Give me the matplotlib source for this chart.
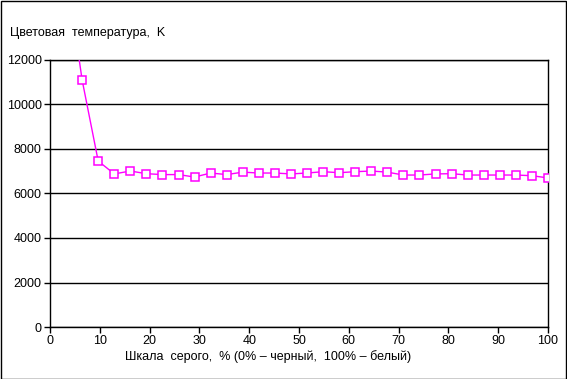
import matplotlib.pyplot as plt
import numpy as np

plt.rcParams['font.family'] = ['Liberation Sans', 'DejaVu Sans']

# gray level steps (k * 100/31), k = 1..31
steps = np.arange(1, 32)
gray_pct = steps * 100 / 31
color_temp = [16100, 11100, 7460, 6880, 7010, 6890, 6850, 6850, 6740, 6920,
              6850, 6960, 6920, 6920, 6880, 6920, 6980, 6935, 6980, 7010,
              6960, 6830, 6830, 6880, 6890, 6830, 6830, 6830, 6830, 6800,
              6700]

y_ticks = [0, 2000, 4000, 6000, 8000, 10000, 12000]
x_ticks = [0, 10, 20, 30, 40, 50, 60, 70, 80, 90, 100]

fig = plt.figure(figsize=(5.67, 3.79), dpi=100)
ax = fig.add_axes([50 / 567, 1 - 327 / 379, 498 / 567, 267 / 379])

ax.plot(gray_pct, color_temp, color='#FF00FF', lw=1, marker='s',
        markersize=6, markerfacecolor='white', markeredgecolor='#FF00FF',
        markeredgewidth=1.1, zorder=3)

ax.set_xlim(0, 100)
ax.set_ylim(0, 12000)
ax.set_xticks(x_ticks)
ax.set_yticks(y_ticks)
ax.set_yticklabels([str(v) for v in y_ticks])
ax.grid(axis='y', color='black', lw=1)
ax.set_axisbelow(True)
for s in ax.spines.values():
    s.set_color('black')
    s.set_linewidth(1)
ax.tick_params(direction='out', length=4, width=1, labelsize=9, pad=2)

fig.text(10 / 567, 1 - 33 / 379, 'Цветовая  температура,  K', fontsize=9,
         ha='left', va='center')
fig.text(268 / 567, 1 - 357 / 379,
         'Шкала  серого,  % (0% – черный,  100% – белый)', fontsize=9,
         ha='center', va='center')

# outer border
fig.patches.append(plt.Rectangle((0.001, 0.001), 0.997, 0.997, fill=False,
                                 edgecolor='black', lw=1,
                                 transform=fig.transFigure))

fig.savefig('out.png', dpi=100)
